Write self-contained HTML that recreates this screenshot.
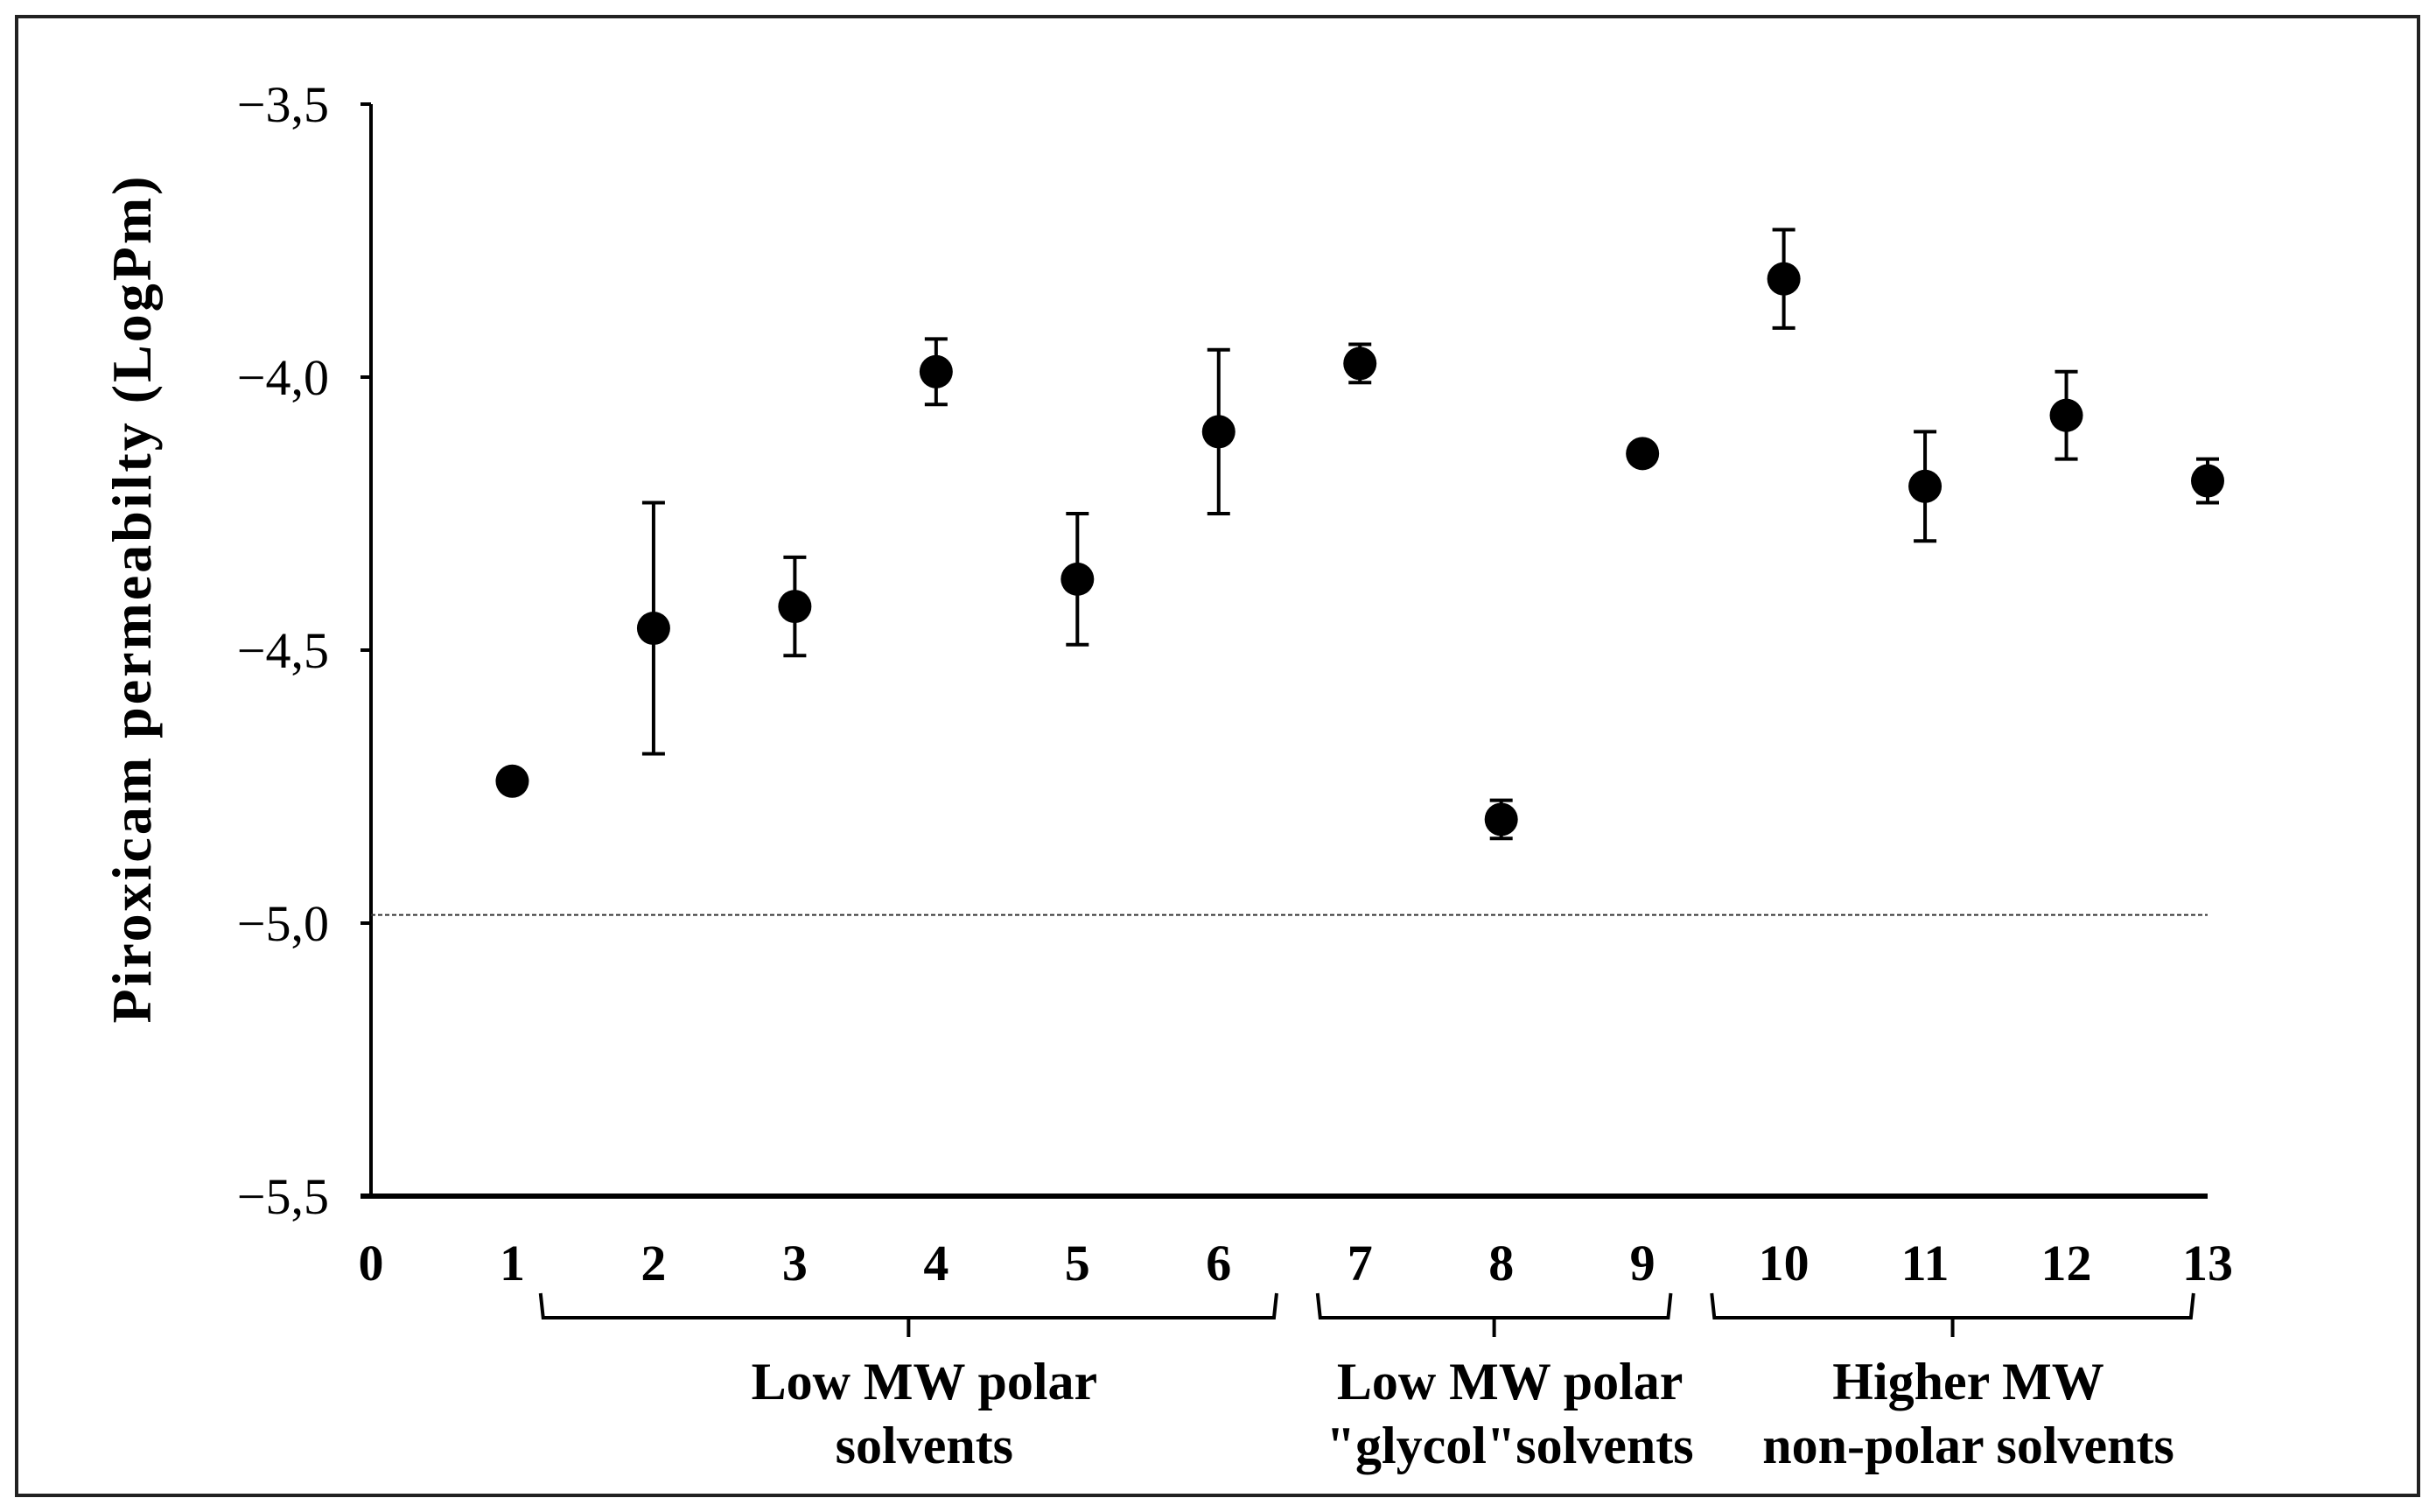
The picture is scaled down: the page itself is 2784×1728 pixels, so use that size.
<!DOCTYPE html>
<html><head><meta charset="utf-8"><style>
html,body{margin:0;padding:0;background:#fff}
svg{display:block}
text{font-family:"Liberation Serif",serif;fill:#000}
</style></head><body>
<svg id="chart" width="2784" height="1728" viewBox="0 0 2784 1728">
<rect x="19" y="19" width="2745" height="1690" fill="none" stroke="#222" stroke-width="4"/>
<g id="axes"></g>
<g id="marks"></g>
<text x="0" y="0" transform="translate(172,684) rotate(-90)" text-anchor="middle" font-size="64" font-weight="bold" letter-spacing="3">Piroxicam permeabilty (LogPm)</text>
</svg>
<script>
const categories=[1,2,3,4,5,6,7,8,9,10,11,12,13];
const values=[-4.74,-4.46,-4.42,-3.99,-4.37,-4.10,-3.975,-4.81,-4.14,-3.82,-4.20,-4.07,-4.19];
const errors=[0,0.23,0.09,0.06,0.12,0.15,0.035,0.035,0,0.09,0.10,0.08,0.04];
const yTicks=[-3.5,-4.0,-4.5,-5.0,-5.5];
const yTickLabels=["\u22123,5","\u22124,0","\u22124,5","\u22125,0","\u22125,5"];
const xTicks=[0,1,2,3,4,5,6,7,8,9,10,11,12,13];
const thresholdValue=-4.985;
const groupStarts=[1.2,6.7,9.49];
const groupEnds=[6.41,9.2,12.9];
const groupLine1=["Low MW polar","Low MW polar","Higher MW"];
const groupLine2=["solvents","\"glycol\"solvents","non-polar solvents"];

const NS="http://www.w3.org/2000/svg";
const X0=424,X1=2523,Y0=1367,Y1=119;
function xs(v){return X0+(v-0)/(13-0)*(X1-X0);}
function ys(v){return Y0-(v-(-5.5))/((-3.5)-(-5.5))*(Y0-Y1);}
function mk(tag,attrs,parent,txt){const e=document.createElementNS(NS,tag);for(const k in attrs)e.setAttribute(k,attrs[k]);if(txt!==undefined)e.textContent=txt;parent.appendChild(e);return e;}
const axes=document.getElementById('axes'),marks=document.getElementById('marks');
let e;
e=mk('line',{x1:X0,y1:Y1,x2:X0,y2:Y0,stroke:'#000','stroke-width':4},axes);


e=mk('line',{x1:X0-12,y1:Y0,x2:X1,y2:Y0,stroke:'#000','stroke-width':6},axes);


yTicks.forEach((t,i)=>{
  e=mk('line',{x1:X0-12,y1:ys(t),x2:X0,y2:ys(t),stroke:'#000','stroke-width':4},axes);
  
  
  e=mk('text',{x:X0-48,y:ys(t)+20,'text-anchor':'end','font-size':58},axes,yTickLabels[i]);
  
  
});
xTicks.forEach(t=>{
  e=mk('text',{x:xs(t),y:1463,'text-anchor':'middle','font-size':58,'font-weight':'bold'},axes,String(t));
  
  
});
e=mk('line',{x1:X0,y1:ys(thresholdValue),x2:X1,y2:ys(thresholdValue),stroke:'#333','stroke-width':2,'stroke-dasharray':'5,3'},axes);


groupStarts.forEach((s,i)=>{
  const a=xs(s),b=xs(groupEnds[i]),m=(a+b)/2;
  e=mk('path',{d:`M${a},1478 L${a+3},1506 L${b-3},1506 L${b},1478 M${m},1506 L${m},1528`,fill:'none',stroke:'#000','stroke-width':4},axes);
  
  
  e=mk('text',{x:m+18,y:1599,'text-anchor':'middle','font-size':60,'font-weight':'bold'},axes,groupLine1[i]);
  
  
  e=mk('text',{x:m+18,y:1672,'text-anchor':'middle','font-size':60,'font-weight':'bold'},axes,groupLine2[i]);
  
  
});
categories.forEach((c,i)=>{
  const x=xs(c),y=ys(values[i]);
  if(errors[i]>0){
    const yt=ys(values[i]+errors[i]),yb=ys(values[i]-errors[i]);
    e=mk('path',{d:`M${x},${yt} L${x},${yb} M${x-13},${yt} L${x+13},${yt} M${x-13},${yb} L${x+13},${yb}`,stroke:'#000','stroke-width':4,fill:'none'},marks);
    
    
  }
  e=mk('circle',{cx:x,cy:y,r:19,fill:'#000'},marks);
  
  
});
</script>
</body></html>
